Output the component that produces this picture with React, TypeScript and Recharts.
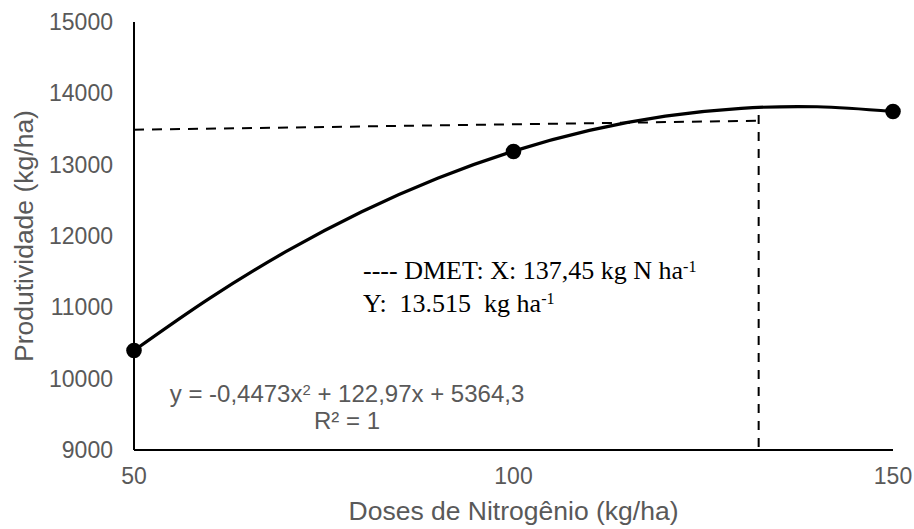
import React from 'react';
import {
  ComposedChart,
  Line,
  Scatter,
  XAxis,
  YAxis,
  ReferenceLine,
} from 'recharts';

// observed points
const doses = [50, 100, 150];
const yields = [10395, 13185, 13745];

// fitted curve
const curveDoses = [50, 60, 70, 80, 90, 100, 110, 120, 130, 137.45, 140, 150];
const curveYields = [10395, 11130, 11780, 12340, 12810, 13190, 13480, 13680, 13790, 13815, 13812, 13745];

// DMET guide lines as drawn
const dmetX = 132.3;
const dmetLineStart = 13490;
const dmetLineEnd = 13615;
const dmetTop = 13695;

const xTicks = [50, 100, 150];
const yTicks = [9000, 10000, 11000, 12000, 13000, 14000, 15000];

const points = doses.map((x, i) => ({ x, y: yields[i] }));
const curve = curveDoses.map((x, i) => ({ x, y: curveYields[i] }));

const gray = '#595959';
const sans = '"Liberation Sans", Arial, sans-serif';
const serif = '"Liberation Serif", "Times New Roman", serif';

const sup: React.CSSProperties = { fontSize: '0.62em', position: 'relative', top: '-0.45em' };

const Dot = (p: any) => <circle cx={p.cx} cy={p.cy} r={7.8} fill="#000" />;

export default function App() {
  return (
    <div style={{ position: 'absolute', left: 0, top: 0, width: 914, height: 529, background: '#fff' }}>
      <ComposedChart width={914} height={529} margin={{ top: 22, right: 21, bottom: 0, left: 0 }}>
        <XAxis
          type="number"
          dataKey="x"
          domain={[50, 150]}
          ticks={xTicks}
          axisLine={{ stroke: '#000', strokeWidth: 2 }}
          tickLine={false}
          tickSize={0}
          tickMargin={18}
          height={79}
          tick={{ fill: gray, fontSize: 23, fontFamily: sans }}
          label={{
            value: 'Doses de Nitrogênio (kg/ha)',
            position: 'insideBottom',
            offset: 9,
            style: { fill: gray, fontSize: 26.5, fontFamily: sans },
          }}
        />
        <YAxis
          type="number"
          domain={[9000, 15000]}
          ticks={yTicks}
          width={134}
          axisLine={{ stroke: '#000', strokeWidth: 2 }}
          tickLine={false}
          tickSize={0}
          tickMargin={21}
          tick={{ fill: gray, fontSize: 23, fontFamily: sans }}
          label={{
            value: 'Produtividade (kg/ha)',
            angle: -90,
            position: 'insideLeft',
            offset: 24,
            style: { fill: gray, fontSize: 26.5, fontFamily: sans, textAnchor: 'middle' },
          }}
        />
        <ReferenceLine
          segment={[{ x: 50, y: dmetLineStart }, { x: dmetX, y: dmetLineEnd }]}
          stroke="#000"
          strokeWidth={2}
          strokeDasharray="10 8"
        />
        <ReferenceLine
          segment={[{ x: dmetX, y: dmetTop }, { x: dmetX, y: 9000 }]}
          stroke="#000"
          strokeWidth={2}
          strokeDasharray="9 8"
        />
        <Line
          data={curve}
          dataKey="y"
          type="monotone"
          stroke="#000"
          strokeWidth={3.2}
          dot={false}
          isAnimationActive={false}
        />
        <Scatter data={points} dataKey="y" shape={Dot} isAnimationActive={false} />
      </ComposedChart>

      <div
        style={{
          position: 'absolute',
          left: 363,
          top: 256,
          fontFamily: serif,
          fontSize: 26,
          lineHeight: '29.5px',
          color: '#000',
          whiteSpace: 'pre',
        }}
      >
        <div>
          ---- DMET: X: 137,45 kg N ha<span style={sup}>-1</span>
        </div>
        <div>
          Y:  13.515  kg ha<span style={sup}>-1</span>
        </div>
      </div>

      <div
        style={{
          position: 'absolute',
          left: 147,
          width: 400,
          top: 382,
          textAlign: 'center',
          fontFamily: sans,
          fontSize: 24,
          lineHeight: '23px',
          color: gray,
          whiteSpace: 'pre',
        }}
      >
        <div>
          y = -0,4473x<span style={sup}>2</span> + 122,97x + 5364,3
        </div>
        <div>R² = 1</div>
      </div>
    </div>
  );
}
